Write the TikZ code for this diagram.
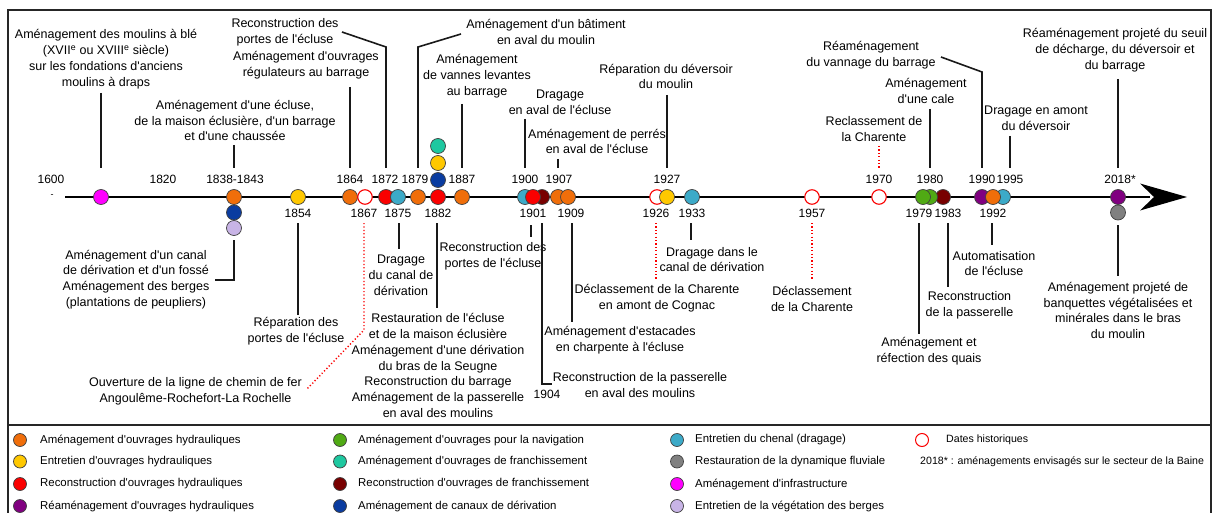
\documentclass[tikz,border=0pt]{standalone}
\usepackage{fontspec}
\setmainfont{Liberation Sans}[Ligatures=TeXOff]
\definecolor{cOr}{RGB}{240,110,10}
\definecolor{cYe}{RGB}{255,200,0}
\definecolor{cRe}{RGB}{250,0,0}
\definecolor{cPu}{RGB}{128,0,128}
\definecolor{cGr}{RGB}{80,170,20}
\definecolor{cTq}{RGB}{30,200,160}
\definecolor{cDr}{RGB}{120,0,0}
\definecolor{cDb}{RGB}{10,60,160}
\definecolor{cCh}{RGB}{60,170,200}
\definecolor{cGy}{RGB}{128,128,128}
\definecolor{cMg}{RGB}{255,0,255}
\definecolor{cLv}{RGB}{200,180,230}
\begin{document}
\begin{tikzpicture}[x=1pt,y=-1pt,
  evdot/.style={circle,draw=black!75,line width=0.7pt,minimum size=15pt,inner sep=0pt},
  evhollow/.style={circle,draw=cRe,fill=white,line width=1.1pt,minimum size=14.5pt,inner sep=0pt},
  evlbl/.style={font=\fontsize{12.5}{15.8}\selectfont,align=center,inner sep=0pt},
  yrlbl/.style={font=\fontsize{12}{14}\selectfont,inner sep=0pt},
  cline/.style={line width=1.6pt,black!90},
  rdots/.style={cRe,line width=1.4pt,dash pattern=on 1.2pt off 2.2pt},
  legtxt/.style={font=\fontsize{11.4}{13}\selectfont,anchor=west,inner sep=0pt},
  legtxtb/.style={font=\fontsize{10.6}{12}\selectfont,anchor=west,inner sep=0pt},
  legdot/.style={circle,draw=black!75,line width=0.7pt,minimum size=13pt,inner sep=0pt}]
\useasboundingbox (0,0) rectangle (1214,513);
% frame
\draw[line width=1.3pt,black!85] (8,10) rectangle (1211,540);
\draw[line width=1.3pt,black!85] (8,425) -- (1211,425);
% axis
\draw[line width=2.6pt] (65,197) -- (1150,197);
\fill (1187,197) -- (1140,183.5) -- (1154,197) -- (1140,210.5) -- cycle;
\node[yrlbl,font=\fontsize{9}{10}\selectfont] (dash) at (52,196) {-};

% event circles
\node[evdot,fill=cMg] (e1600) at (101,197) {};
\node[evdot,fill=cOr] (e1838) at (234,197) {};
\node[evdot,fill=cDb] (e1838b) at (234,212.5) {};
\node[evdot,fill=cLv] (e1838c) at (234,228) {};
\node[evdot,fill=cYe] (e1854) at (298,197) {};
\node[evdot,fill=cOr] (e1864) at (350,197) {};
\node[evhollow] (e1867) at (365,197) {};
\node[evdot,fill=cRe] (e1872) at (386,197) {};
\node[evdot,fill=cCh] (e1875) at (398,197) {};
\node[evdot,fill=cOr] (e1879) at (418,197) {};
\node[evdot,fill=cTq] (e1882d) at (438,146) {};
\node[evdot,fill=cYe] (e1882c) at (438,163) {};
\node[evdot,fill=cDb] (e1882b) at (438,180) {};
\node[evdot,fill=cRe] (e1882) at (438,197) {};
\node[evdot,fill=cOr] (e1887) at (462,197) {};
\node[evdot,fill=cCh] (e1900) at (525,197) {};
\node[evdot,fill=cDr] (e1904) at (542,197) {};
\node[evdot,fill=cRe] (e1901) at (533,197) {};
\node[evdot,fill=cOr] (e1907) at (558,197) {};
\node[evdot,fill=cOr] (e1909) at (568,197) {};
\node[evhollow] (e1926) at (657,197) {};
\node[evdot,fill=cYe] (e1927) at (667,197) {};
\node[evdot,fill=cCh] (e1933) at (692,197) {};
\node[evhollow] (e1957) at (812,197) {};
\node[evhollow] (e1970) at (879,197) {};
\node[evdot,fill=cDr] (e1983) at (943,197) {};
\node[evdot,fill=cGr] (e1980) at (930,197) {};
\node[evdot,fill=cGr] (e1979) at (923,197) {};
\node[evdot,fill=cPu] (e1990) at (982,197) {};
\node[evdot,fill=cCh] (e1995) at (1003,197) {};
\node[evdot,fill=cOr] (e1992) at (993,197) {};
\node[evdot,fill=cPu] (e2018) at (1118,197) {};
\node[evdot,fill=cGy] (e2018b) at (1118,212.5) {};

% year labels above
\node[yrlbl] (y1600) at (51,179) {1600};
\node[yrlbl] (y1820) at (163,179) {1820};
\node[yrlbl] (y1838) at (235,179) {1838-1843};
\node[yrlbl] (y1864) at (350,179) {1864};
\node[yrlbl] (y1872) at (385,179) {1872};
\node[yrlbl] (y1879) at (415,179) {1879};
\node[yrlbl] (y1887) at (462,179) {1887};
\node[yrlbl] (y1900) at (525,179) {1900};
\node[yrlbl] (y1907) at (559,179) {1907};
\node[yrlbl] (y1927) at (667,179) {1927};
\node[yrlbl] (y1970) at (879,179) {1970};
\node[yrlbl] (y1980) at (930,179) {1980};
\node[yrlbl] (y1990) at (982,179) {1990};
\node[yrlbl] (y1995) at (1010,179) {1995};
\node[yrlbl] (y2018) at (1120,179) {2018*};
% year labels below
\node[yrlbl] (y1854) at (298,213) {1854};
\node[yrlbl] (y1867) at (364,213) {1867};
\node[yrlbl] (y1875) at (398,213) {1875};
\node[yrlbl] (y1882) at (438,213) {1882};
\node[yrlbl] (y1901) at (533,213) {1901};
\node[yrlbl] (y1909) at (571,213) {1909};
\node[yrlbl] (y1926) at (656,213) {1926};
\node[yrlbl] (y1933) at (692,213) {1933};
\node[yrlbl] (y1957) at (812,213) {1957};
\node[yrlbl] (y1979) at (919,213) {1979};
\node[yrlbl] (y1983) at (948,213) {1983};
\node[yrlbl] (y1992) at (993,213) {1992};
\node[yrlbl] (y1904) at (547,394) {1904};

% top texts
\node[evlbl] (t1600) at (106,59) {Aménagement des moulins à blé\\(XVII\textsuperscript{e} ou XVIII\textsuperscript{e} siècle)\\sur les fondations d'anciens\\moulins à draps};
\node[evlbl] (t1838) at (235,120.5) {Aménagement d'une écluse,\\de la maison éclusière, d'un barrage\\et d'une chaussée};
\node[evlbl] (t1872) at (285,32) {Reconstruction des\\portes de l'écluse};
\node[evlbl] (t1864) at (306,65) {Aménagement d'ouvrages\\régulateurs au barrage};
\node[evlbl] (t1879) at (546,32) {Aménagement d'un bâtiment\\en aval du moulin};
\node[evlbl] (t1887) at (477,76) {Aménagement\\de vannes levantes\\au barrage};
\node[evlbl] (t1900) at (560,102.5) {Dragage\\en aval de l'écluse};
\node[evlbl] (t1907) at (597,141.5) {Aménagement de perrés\\en aval de l'écluse};
\node[evlbl] (t1927) at (666,76.5) {Réparation du déversoir\\du moulin};
\node[evlbl] (t1970) at (874,129) {Reclassement de\\la Charente};
\node[evlbl] (t1990) at (871,55) {Réaménagement\\du vannage du barrage};
\node[evlbl] (t1980) at (926,91) {Aménagement\\d'une cale};
\node[evlbl] (t1995) at (1036,118.5) {Dragage en amont\\du déversoir};
\node[evlbl] (t2018) at (1115,50) {Réaménagement projeté du seuil\\de décharge, du déversoir et\\du barrage};

% bottom texts
\node[evlbl] (b1838) at (136,279.5) {Aménagement d'un canal\\de dérivation et d'un fossé\\Aménagement des berges\\(plantations de peupliers)};
\node[evlbl] (b1854) at (296,331.5) {Réparation des\\portes de l'écluse};
\node[evlbl] (b1867) at (195.5,391.5) {Ouverture de la ligne de chemin de fer\\Angoulême-Rochefort-La Rochelle};
\node[evlbl] (b1875) at (401,275) {Dragage\\du canal de\\dérivation};
\node[evlbl] (b1882) at (438,365.5) {Restauration de l'écluse\\et de la maison éclusière\\Aménagement d'une dérivation\\du bras de la Seugne\\Reconstruction du barrage\\Aménagement de la passerelle\\en aval des moulins};
\node[evlbl] (b1901) at (493,256.5) {Reconstruction des\\portes de l'écluse};
\node[evlbl] (b1904) at (640,385) {Reconstruction de la passerelle\\en aval des moulins};
\node[evlbl] (b1909) at (620,340) {Aménagement d'estacades\\en charpente à l'écluse};
\node[evlbl] (b1926) at (657,298) {Déclassement de la Charente\\en amont de Cognac};
\node[evlbl] (b1933) at (712,259.5) {Dragage dans le\\canal de dérivation};
\node[evlbl] (b1957) at (812,299) {Déclassement\\de la Charente};
\node[evlbl] (b1979) at (929,351.5) {Aménagement et\\réfection des quais};
\node[evlbl] (b1983) at (969.5,305.5) {Reconstruction\\de la passerelle};
\node[evlbl] (b1992) at (994,263.5) {Automatisation\\de l'écluse};
\node[evlbl] (b2018) at (1118,310.5) {Aménagement projeté de\\banquettes végétalisées et\\minérales dans le bras\\du moulin};

% connectors above
\draw[cline] (e1600.center |- 0,93) -- (e1600.center |- 0,168);
\draw[cline] (e1838.center |- 0,145) -- (e1838.center |- 0,168);
\draw[cline] (e1864.center |- 0,87) -- (e1864.center |- 0,168);
\draw[cline] (342,32) -- (e1872.center |- 0,47) -- (e1872.center |- 0,168);
\draw[cline] (461,34) -- (e1879.center |- 0,47) -- (e1879.center |- 0,168);
\draw[cline] (e1887.center |- 0,104) -- (e1887.center |- 0,168);
\draw[cline] (e1900.center |- 0,119) -- (e1900.center |- 0,168);
\draw[cline] (e1907.center |- 0,159) -- (e1907.center |- 0,168);
\draw[cline] (e1927.center |- 0,95) -- (e1927.center |- 0,168);
\draw[rdots] (e1970.center |- 0,146) -- (e1970.center |- 0,168);
\draw[cline] (e1980.center |- 0,109) -- (e1980.center |- 0,168);
\draw[cline] (941,57) -- (e1990.center |- 0,72) -- (e1990.center |- 0,168);
\draw[cline] (1010,136) -- (1010,168);
\draw[cline] (e2018.center |- 0,79) -- (e2018.center |- 0,168);
% connectors below
\draw[cline] (e1838c.center |- 0,240) -- (e1838c.center |- 0,280) -- (215,280);
\draw[cline] (e1854.center |- 0,223) -- (e1854.center |- 0,315);
\draw[rdots] (364,223) -- (364,330) -- (307,389);
\draw[cline] (399,223) -- (399,249);
\draw[cline] (437,223) -- (437,308);
\draw[cline] (531,225) -- (531,237);
\draw[cline] (542,223) -- (542,384) -- (552,384);
\draw[cline] (572,223) -- (572,322);
\draw[rdots] (656,223) -- (656,280);
\draw[cline] (691,223) -- (691,240);
\draw[rdots] (812,223) -- (812,280);
\draw[cline] (919,223) -- (919,334);
\draw[cline] (948,223) -- (948,287);
\draw[cline] (992,223) -- (992,245);
\draw[cline] (e2018b.center |- 0,225) -- (e2018b.center |- 0,276);

% legend
\node[legdot,fill=cOr] (l1) at (20,440) {};
\node[legtxt] (lt1) at (40,440) {Aménagement d'ouvrages hydrauliques};
\node[legdot,fill=cYe] (l2) at (20,461.5) {};
\node[legtxt] (lt2) at (40,461.5) {Entretien d'ouvrages hydrauliques};
\node[legdot,fill=cRe] (l3) at (20,484) {};
\node[legtxt] (lt3) at (40,484) {Reconstruction d'ouvrages hydrauliques};
\node[legdot,fill=cPu] (l4) at (20,506) {};
\node[legtxt] (lt4) at (40,506) {Réaménagement d'ouvrages hydrauliques};
\node[legdot,fill=cGr] (l5) at (340,440) {};
\node[legtxt] (lt5) at (358,440) {Aménagement d'ouvrages pour la navigation};
\node[legdot,fill=cTq] (l6) at (340,461.5) {};
\node[legtxt] (lt6) at (358,461.5) {Aménagement d'ouvrages de franchissement};
\node[legdot,fill=cDr] (l7) at (340,484) {};
\node[legtxt] (lt7) at (358,484) {Reconstruction d'ouvrages de franchissement};
\node[legdot,fill=cDb] (l8) at (340,506) {};
\node[legtxt] (lt8) at (358,506) {Aménagement de canaux de dérivation};
\node[legdot,fill=cCh] (l9) at (677,440) {};
\node[legtxt] (lt9) at (695,440) {Entretien du chenal (dragage)};
\node[legdot,fill=cGy] (l10) at (677,461.5) {};
\node[legtxt] (lt10) at (695,461.5) {Restauration de la dynamique fluviale};
\node[legdot,fill=cMg] (l11) at (677,484) {};
\node[legtxt] (lt11) at (695,484) {Aménagement d'infrastructure};
\node[legdot,fill=cLv] (l12) at (677,506) {};
\node[legtxt] (lt12) at (695,506) {Entretien de la végétation des berges};
\node[legdot,draw=cRe,fill=white,line width=1pt] (l13) at (922,440) {};
\node[legtxtb] (lt13) at (946,440) {Dates historiques};
\node[legtxtb] (lt14) at (920,461.5) {2018* : aménagements envisagés sur le secteur de la Baine};
\end{tikzpicture}
\end{document}
